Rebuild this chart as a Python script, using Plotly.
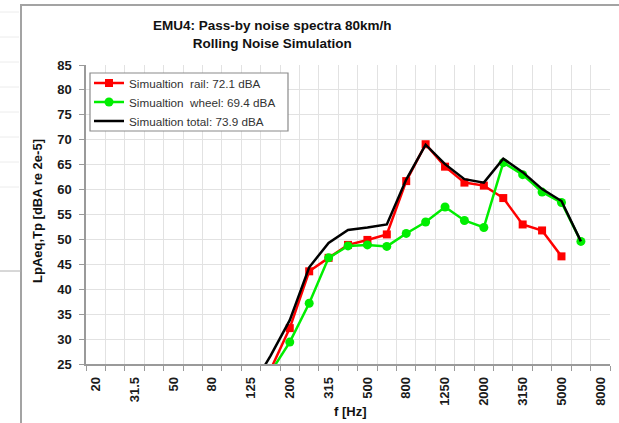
import plotly.graph_objects as go

# ---- data ----
freq_bands = ["20", "25", "31.5", "40", "50", "63", "80", "100", "125", "160", "200",
              "250", "315", "400", "500", "630", "800", "1000", "1250", "1600", "2000",
              "2500", "3150", "4000", "5000", "6300", "8000"]
tick_labels = ["20", "31.5", "50", "80", "125", "200", "315", "500", "800", "1250",
               "2000", "3150", "5000", "8000"]

rail_freqs = ["125", "160", "200", "250", "315", "400", "500", "630", "800", "1000",
              "1250", "1600", "2000", "2500", "3150", "4000", "5000"]
rail_vals = [18.0, 23.8, 32.2, 43.6, 46.3, 48.9, 49.9, 51.0, 61.7, 69.1,
             64.6, 61.4, 60.8, 58.3, 53.0, 51.8, 46.6]

wheel_freqs = ["125", "160", "200", "250", "315", "400", "500", "630", "800", "1000",
               "1250", "1600", "2000", "2500", "3150", "4000", "5000", "6300"]
wheel_vals = [15.0, 23.3, 29.4, 37.2, 46.3, 48.7, 48.9, 48.6, 51.2, 53.5,
              56.5, 53.8, 52.4, 65.4, 63.0, 59.5, 57.4, 49.6]

total_freqs = wheel_freqs
total_vals = [20.0, 26.6, 33.8, 44.4, 49.3, 51.9, 52.4, 53.0, 62.0, 69.0,
              65.1, 62.1, 61.4, 66.2, 63.5, 60.1, 57.7, 49.6]

names = ["Simualtion\u00a0 rail: 72.1 dBA",
         "Simualtion\u00a0 wheel: 69.4 dBA",
         "Simualtion total: 73.9 dBA"]

# ---- geometry helpers (pixel -> paper) ----
L, R, T, B = 86, 9, 65, 59
W, H = 619, 423
PW, PH = W - L - R, H - T - B


def px(x):
    return (x - L) / PW


def py(y):
    return (H - B - y) / PH


def idx(fs):
    return [freq_bands.index(f) for f in fs]


FONT = "Liberation Sans, Arial, sans-serif"

fig = go.Figure()
fig.add_trace(go.Scatter(
    x=idx(rail_freqs), y=rail_vals, name=names[0], mode="lines+markers",
    line=dict(color="#ff0000", width=2.5),
    marker=dict(symbol="square", size=8, color="#ff0000")))
fig.add_trace(go.Scatter(
    x=idx(wheel_freqs), y=wheel_vals, name=names[1], mode="lines+markers",
    line=dict(color="#00ee00", width=2.5),
    marker=dict(symbol="circle", size=9, color="#00ee00")))
fig.add_trace(go.Scatter(
    x=idx(total_freqs), y=total_vals, name=names[2], mode="lines",
    line=dict(color="#000000", width=2.5)))

grid = "#e2e2e2"
axis_col = "#9a9a9a"

fig.update_xaxes(
    range=[-0.5, len(freq_bands) - 0.5],
    tickmode="array", tickvals=idx(tick_labels), ticktext=tick_labels,
    tickangle=-90, ticks="", showgrid=False, ticklabelstandoff=6,
    tickfont=dict(family=FONT, size=13, color="#1a1a1a", weight="bold"),
    showline=True, linecolor=axis_col, linewidth=1.5,
    minor=dict(tickmode="linear", tick0=-0.5, dtick=1, ticks="outside",
               ticklen=5, tickcolor=axis_col, showgrid=True,
               gridcolor=grid, gridwidth=1.2),
    zeroline=False, fixedrange=True)
fig.update_yaxes(
    range=[25, 85], dtick=5, ticks="outside", ticklen=5, tickcolor=axis_col,
    ticklabelstandoff=5,
    tickfont=dict(family=FONT, size=13, color="#1a1a1a", weight="bold"),
    showline=True, linecolor=axis_col, linewidth=1.5,
    showgrid=True, gridcolor=grid, gridwidth=1.2, zeroline=False)

shapes = []
# outer chart frame
shapes.append(dict(type="rect", xref="paper", yref="paper",
                   x0=px(21), x1=px(660), y0=py(5), y1=py(460),
                   line=dict(color="#a3a3a3", width=2), layer="below"))
# remnants of neighbouring sheet at left edge
for yy in [12, 37, 62, 87, 112, 137, 162, 187]:
    shapes.append(dict(type="line", xref="paper", yref="paper",
                       x0=px(0), x1=px(19), y0=py(yy), y1=py(yy),
                       line=dict(color="#ececec", width=1)))
shapes.append(dict(type="line", xref="paper", yref="paper",
                   x0=px(0), x1=px(21), y0=py(271), y1=py(271),
                   line=dict(color="#b0b0b0", width=1)))
# legend box
shapes.append(dict(type="rect", xref="paper", yref="paper",
                   x0=px(90), x1=px(288), y0=py(73), y1=py(131),
                   line=dict(color="#8a8a8a", width=1.2),
                   fillcolor="white", layer="above"))

annotations = [
    dict(text="<b>EMU4: Pass-by noise spectra 80km/h</b><br><b>Rolling Noise Simulation</b>",
         xref="paper", yref="paper", x=px(272), y=py(34), xanchor="center",
         yanchor="middle", showarrow=False,
         font=dict(family=FONT, size=13.5, color="#111111")),
    dict(text="<b>LpAeq,Tp [dBA re 2e-5]</b>", textangle=-90,
         xref="paper", yref="paper", x=px(37), y=py(211), xanchor="center",
         yanchor="middle", showarrow=False,
         font=dict(family=FONT, size=13, color="#111111")),
    dict(text="<b>f [Hz]</b>",
         xref="paper", yref="paper", x=px(350), y=py(412), xanchor="center",
         yanchor="middle", showarrow=False,
         font=dict(family=FONT, size=13, color="#111111")),
]

fig.update_layout(
    width=W, height=H,
    margin=dict(l=L, r=R, t=T, b=B, pad=0),
    paper_bgcolor="white", plot_bgcolor="white",
    showlegend=True,
    legend=dict(x=px(89), y=py(68.5), xanchor="left", yanchor="top",
                bgcolor="rgba(0,0,0,0)", borderwidth=0,
                font=dict(family=FONT, size=11.7, color="#333333"),
                itemwidth=30, tracegroupgap=0),
    shapes=shapes, annotations=annotations,
)

fig.write_html("out.html",
               config={"displayModeBar": False},
               post_script="document.body.style.margin='0';document.body.style.overflow='hidden';")
